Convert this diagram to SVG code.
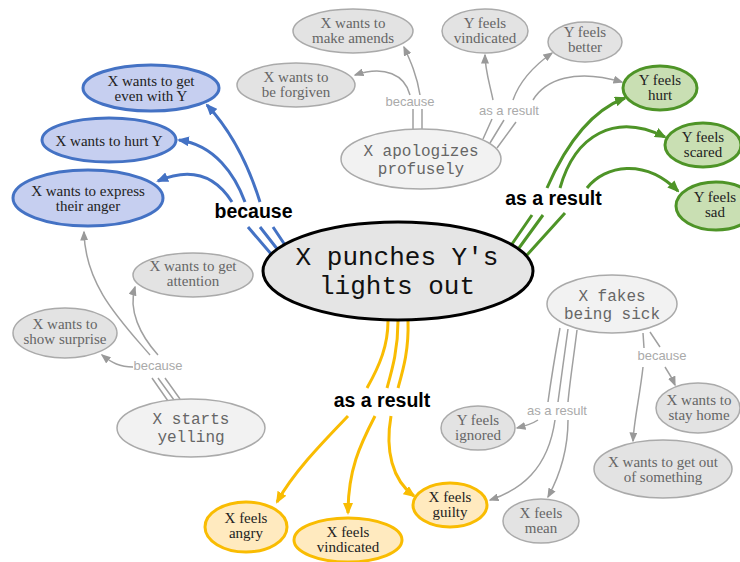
<svg xmlns="http://www.w3.org/2000/svg" width="740" height="562" viewBox="0 0 740 562">
<style>
.t{font-family:"Liberation Serif","DejaVu Serif",serif;font-size:15px;text-anchor:middle;fill:#222}
.tg{fill:#666}
.m{font-family:"Liberation Mono","DejaVu Sans Mono",monospace;text-anchor:middle;fill:#666;font-size:16px}
.mc{font-size:26px;fill:#111}
.lb{font-family:"Liberation Sans",Arial,sans-serif;font-weight:bold;font-size:19.5px;text-anchor:middle;fill:#000}
.lg{font-family:"Liberation Sans",Arial,sans-serif;font-size:13px;text-anchor:middle;fill:#aaa}
.nb{fill:#c6cff0;stroke:#4472c4;stroke-width:3}
.ng{fill:#c9dfb3;stroke:#4e9427;stroke-width:3}
.ny{fill:#ffeabf;stroke:#f9bc02;stroke-width:3}
.nx{fill:#e3e3e3;stroke:#aaa;stroke-width:1.5}
.ne{fill:#f2f2f2;stroke:#aaa;stroke-width:1.5}
.nc{fill:#e5e5e5;stroke:#000;stroke-width:3}
.eb{fill:none;stroke:#4472c4;stroke-width:3}
.eg{fill:none;stroke:#4e9427;stroke-width:3}
.ey{fill:none;stroke:#f9bc02;stroke-width:3}
.ex{fill:none;stroke:#a0a0a0;stroke-width:1.5}
</style>
<defs>
<marker id="mb" viewBox="0 0 12 10" refX="10" refY="5" markerWidth="12" markerHeight="10" orient="auto" markerUnits="userSpaceOnUse"><path d="M0,0L12,5L0,10z" fill="#4472c4"/></marker>
<marker id="mg" viewBox="0 0 12 10" refX="10" refY="5" markerWidth="12" markerHeight="10" orient="auto" markerUnits="userSpaceOnUse"><path d="M0,0L12,5L0,10z" fill="#4e9427"/></marker>
<marker id="my" viewBox="0 0 12 10" refX="10" refY="5" markerWidth="12" markerHeight="10" orient="auto" markerUnits="userSpaceOnUse"><path d="M0,0L12,5L0,10z" fill="#f9bc02"/></marker>
<marker id="mx" viewBox="0 0 10 8" refX="8.5" refY="4" markerWidth="10" markerHeight="8" orient="auto" markerUnits="userSpaceOnUse"><path d="M0,0L10,4L0,8z" fill="#999"/></marker>
</defs>
<rect width="740" height="562" fill="#fff"/>

<g id="connectors">
  <!-- blue: because -->
  <path class="eb" d="M272,255L248,227M278,250L260,227M285,245L273,227"/>
  <path class="eb" marker-end="url(#mb)" d="M232,202C220,183 198,164 158,181"/>
  <path class="eb" marker-end="url(#mb)" d="M245,202C235,175 215,145 179,140"/>
  <path class="eb" marker-end="url(#mb)" d="M260,202C250,170 235,135 207,105"/>
  <text class="lb" x="253.5" y="218">because</text>
  <!-- green: as a result -->
  <path class="eg" d="M512,244L532,215M519,248L543,215M527,255L565,213"/>
  <path class="eg" marker-end="url(#mg)" d="M547,188C560,158 585,113 625,98"/>
  <path class="eg" marker-end="url(#mg)" d="M560,188C575,135 615,112 665,137"/>
  <path class="eg" marker-end="url(#mg)" d="M587,188C605,165 645,158 678,191"/>
  <text class="lb" x="553.5" y="205">as a result</text>
  <!-- yellow: as a result -->
  <path class="ey" d="M388,321C388,345 380,365 367,388M398,321C398,350 392,370 387,388M408,321C409,350 403,370 398,388"/>
  <path class="ey" marker-end="url(#my)" d="M348,416C325,440 295,470 277,502"/>
  <path class="ey" marker-end="url(#my)" d="M375,416C360,445 348,470 348,513"/>
  <path class="ey" marker-end="url(#my)" d="M391,416C385,450 392,480 414,496"/>
  <text class="lb" x="382" y="407">as a result</text>
  <!-- apologizes: because -->
  <path class="ex" d="M413,129L413,109M422,129L422,109"/>
  <path class="ex" marker-end="url(#mx)" d="M410,95C405,75 385,65 355,75"/>
  <path class="ex" marker-end="url(#mx)" d="M420,95C417,75 410,60 404,47"/>
  <text class="lg" x="410" y="106">because</text>
  <!-- apologizes: as a result -->
  <path class="ex" d="M483,139L492,119M490,143L504,120M497,148L516,122"/>
  <path class="ex" marker-end="url(#mx)" d="M493,100C490,85 485,70 485,55"/>
  <path class="ex" marker-end="url(#mx)" d="M513,100C520,80 535,65 552,53"/>
  <path class="ex" marker-end="url(#mx)" d="M533,100C545,80 575,68 622,82"/>
  <text class="lg" x="509" y="115">as a result</text>
  <!-- yelling: because -->
  <path class="ex" d="M168,401L152,378M174,400L158,378M180,399L165,378"/>
  <path class="ex" marker-end="url(#mx)" d="M150,355C120,320 85,285 84,232"/>
  <path class="ex" marker-end="url(#mx)" d="M158,355C140,335 128,310 135,287"/>
  <path class="ex" marker-end="url(#mx)" d="M133,367C120,367 112,363 102,355"/>
  <text class="lg" x="158" y="370">because</text>
  <!-- fakes: as a result -->
  <path class="ex" d="M560,328C556,350 551,380 548,402M568,329C565,350 561,380 558,402M577,330C574,355 570,380 568,402"/>
  <path class="ex" marker-end="url(#mx)" d="M538,420C532,424 525,426 517,428"/>
  <path class="ex" marker-end="url(#mx)" d="M555,420C548,470 520,490 490,500"/>
  <path class="ex" marker-end="url(#mx)" d="M568,420C568,450 560,475 548,497"/>
  <text class="lg" x="557" y="415">as a result</text>
  <!-- fakes: because -->
  <path class="ex" d="M643,333L644,348M650,332L660,347"/>
  <path class="ex" marker-end="url(#mx)" d="M643,367C640,395 634,420 633,441"/>
  <path class="ex" marker-end="url(#mx)" d="M665,367C669,373 672,378 675,385"/>
  <text class="lg" x="662" y="360">because</text>
</g>

<g id="center">
  <ellipse class="nc" cx="398" cy="271" rx="135" ry="49"/>
  <text class="m mc" x="397" y="265">X punches Y's</text>
  <text class="m mc" x="397" y="294">lights out</text>
</g>

<g id="even-with-y"><ellipse class="nb" cx="151" cy="88" rx="68" ry="23"/><text class="t" x="151" y="86">X wants to get</text><text class="t" x="151" y="101">even with Y</text></g>
<g id="hurt-y"><ellipse class="nb" cx="109" cy="140" rx="67" ry="22"/><text class="t" x="109" y="146">X wants to hurt Y</text></g>
<g id="express-anger"><ellipse class="nb" cx="88" cy="198" rx="75" ry="28"/><text class="t" x="88" y="196">X wants to express</text><text class="t" x="88" y="211">their anger</text></g>

<g id="y-hurt"><ellipse class="ng" cx="660" cy="88" rx="37" ry="22"/><text class="t" x="660" y="85">Y feels</text><text class="t" x="660" y="100">hurt</text></g>
<g id="y-scared"><ellipse class="ng" cx="703" cy="145" rx="38" ry="22"/><text class="t" x="703" y="142">Y feels</text><text class="t" x="703" y="157">scared</text></g>
<g id="y-sad"><ellipse class="ng" cx="716" cy="206" rx="40" ry="24"/><text class="t" x="715" y="202">Y feels</text><text class="t" x="715" y="217">sad</text></g>

<g id="x-angry"><ellipse class="ny" cx="246" cy="527" rx="41" ry="25"/><text class="t" x="246" y="523">X feels</text><text class="t" x="246" y="538">angry</text></g>
<g id="x-vindicated"><ellipse class="ny" cx="348" cy="540" rx="54" ry="22"/><text class="t" x="348" y="537">X feels</text><text class="t" x="348" y="552">vindicated</text></g>
<g id="x-guilty"><ellipse class="ny" cx="450" cy="505" rx="37" ry="22"/><text class="t" x="450" y="502">X feels</text><text class="t" x="450" y="517">guilty</text></g>

<g id="make-amends"><ellipse class="nx" cx="353" cy="31" rx="60" ry="22"/><text class="t tg" x="353" y="28">X wants to</text><text class="t tg" x="353" y="43">make amends</text></g>
<g id="be-forgiven"><ellipse class="nx" cx="296" cy="85" rx="59" ry="22"/><text class="t tg" x="296" y="82">X wants to</text><text class="t tg" x="296" y="97">be forgiven</text></g>
<g id="y-vindicated"><ellipse class="nx" cx="485" cy="31" rx="43" ry="22"/><text class="t tg" x="485" y="28">Y feels</text><text class="t tg" x="485" y="43">vindicated</text></g>
<g id="y-better"><ellipse class="nx" cx="585" cy="42" rx="37" ry="20"/><text class="t tg" x="585" y="37">Y feels</text><text class="t tg" x="585" y="52">better</text></g>
<g id="apologizes"><ellipse class="ne" cx="421" cy="159" rx="80" ry="30"/><text class="m" x="421" y="156">X apologizes</text><text class="m" x="421" y="174">profusely</text></g>

<g id="get-attention"><ellipse class="nx" cx="193" cy="275" rx="60" ry="22"/><text class="t tg" x="193" y="271">X wants to get</text><text class="t tg" x="193" y="286">attention</text></g>
<g id="show-surprise"><ellipse class="nx" cx="65" cy="333" rx="52" ry="25"/><text class="t tg" x="65" y="329">X wants to</text><text class="t tg" x="65" y="344">show surprise</text></g>
<g id="starts-yelling"><ellipse class="ne" cx="191" cy="428" rx="74" ry="29"/><text class="m" x="191" y="424">X starts</text><text class="m" x="191" y="442">yelling</text></g>

<g id="fakes-sick"><ellipse class="ne" cx="612" cy="304" rx="65" ry="29"/><text class="m" x="612" y="301">X fakes</text><text class="m" x="612" y="319">being sick</text></g>
<g id="stay-home"><ellipse class="nx" cx="698" cy="408" rx="42" ry="25"/><text class="t tg" x="699" y="405">X wants to</text><text class="t tg" x="699" y="420">stay home</text></g>
<g id="get-out"><ellipse class="nx" cx="663" cy="469" rx="69" ry="29"/><text class="t tg" x="663" y="467">X wants to get out</text><text class="t tg" x="663" y="482">of something</text></g>
<g id="y-ignored"><ellipse class="nx" cx="478" cy="428" rx="37" ry="22"/><text class="t tg" x="478" y="425">Y feels</text><text class="t tg" x="478" y="440">ignored</text></g>
<g id="x-mean"><ellipse class="nx" cx="541" cy="521" rx="38" ry="22"/><text class="t tg" x="541" y="518">X feels</text><text class="t tg" x="541" y="533">mean</text></g>
</svg>
